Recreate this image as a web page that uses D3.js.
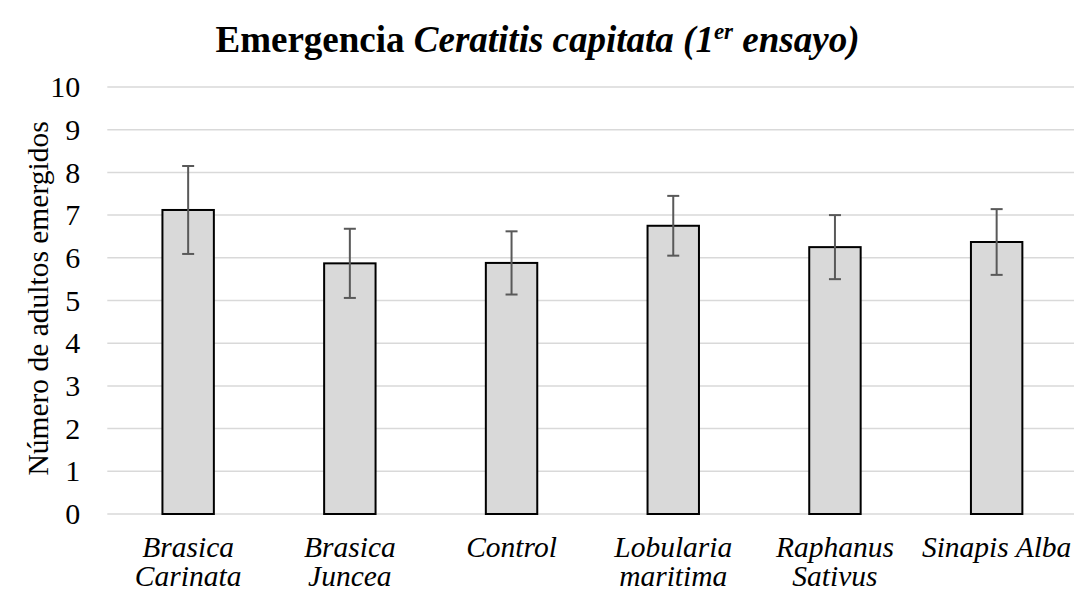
<!DOCTYPE html>
<html>
<head>
<meta charset="utf-8">
<script src="https://cdn.jsdelivr.net/npm/d3@7"></script>
<style>
  html, body { margin: 0; padding: 0; background: #fff; }
  svg { display: block; }
  svg text { font-family: "Liberation Serif", "Times New Roman", Times, "DejaVu Serif", serif !important; }
</style>
</head>
<body>
<div id="chart"></div>
<script>
// Emergence of adult Ceratitis capitata per treatment (first trial)
const categories = [
  ["Brasica", "Carinata"],
  ["Brasica", "Juncea"],
  ["Control"],
  ["Lobularia", "maritima"],
  ["Raphanus", "Sativus"],
  ["Sinapis Alba"]
];
const means  = [7.12, 5.87, 5.88, 6.75, 6.25, 6.37];
const errors = [1.03, 0.81, 0.74, 0.70, 0.75, 0.77];
const yTicks = [0, 1, 2, 3, 4, 5, 6, 7, 8, 9, 10];

const W = 1074, H = 592;
const margin = { top: 87, right: -3.5, bottom: 78, left: 107.3 };
const innerW = W - margin.left - margin.right;
const innerH = H - margin.top - margin.bottom;

const serif = "'Liberation Serif', 'Times New Roman', Times, 'DejaVu Serif', serif";

const svg = d3.select("#chart").append("svg")
  .attr("width", W).attr("height", H);

const keys = categories.map(c => c.join(" "));

const x = d3.scaleBand().domain(keys).range([0, innerW]).paddingInner(0.682).paddingOuter(0.341);
const y = d3.scaleLinear().domain([0, 10]).range([innerH, 0]);

const g = svg.append("g").attr("transform", `translate(${margin.left},${margin.top})`);

// Horizontal gridlines
g.append("g").selectAll("line").data(yTicks).join("line")
  .attr("x1", 0).attr("x2", innerW)
  .attr("y1", d => y(d)).attr("y2", d => y(d))
  .attr("stroke", "#d9d9d9").attr("stroke-width", 1.5);

// Y axis tick labels
const yAxis = g.append("g")
  .call(d3.axisLeft(y).tickValues(yTicks).tickSize(0).tickPadding(27).tickFormat(d3.format("d")))
  .attr("font-family", serif);
yAxis.select(".domain").remove();
yAxis.selectAll("text")
  .attr("font-size", 30).attr("fill", "#000")
  .style("font-family", serif);

// Bars
const data = keys.map((k, i) => ({ key: k, mean: means[i], err: errors[i] }));
g.append("g").selectAll("rect").data(data).join("rect")
  .attr("x", d => x(d.key))
  .attr("y", d => y(d.mean))
  .attr("width", x.bandwidth())
  .attr("height", d => y(0) - y(d.mean))
  .attr("fill", "#d9d9d9")
  .attr("stroke", "#000").attr("stroke-width", 2);

// Error bars
const eb = g.append("g").selectAll("g").data(data).join("g")
  .attr("transform", d => `translate(${x(d.key) + x.bandwidth() / 2},0)`)
  .attr("stroke", "#595959").attr("stroke-width", 2);
eb.append("line").attr("x1", 0).attr("x2", 0)
  .attr("y1", d => y(d.mean + d.err)).attr("y2", d => y(d.mean - d.err));
eb.append("line").attr("x1", -6).attr("x2", 6)
  .attr("y1", d => y(d.mean + d.err)).attr("y2", d => y(d.mean + d.err));
eb.append("line").attr("x1", -6).attr("x2", 6)
  .attr("y1", d => y(d.mean - d.err)).attr("y2", d => y(d.mean - d.err));

// Category labels (italic, possibly two lines)
const xl = g.append("g").selectAll("text").data(categories).join("text")
  .attr("x", (d, i) => x(keys[i]) + x.bandwidth() / 2)
  .attr("y", innerH + 43)
  .attr("text-anchor", "middle")
  .style("font-family", serif)
  .attr("font-size", 29.5).attr("font-style", "italic").attr("fill", "#000");
xl.selectAll("tspan").data(d => d).join("tspan")
  .attr("x", function () { return d3.select(this.parentNode).attr("x"); })
  .attr("dy", (d, i) => i === 0 ? 0 : 29)
  .text(d => d);

// Y axis title
svg.append("text")
  .attr("transform", `translate(48,${margin.top + innerH / 2 - 2}) rotate(-90)`)
  .attr("text-anchor", "middle")
  .style("font-family", serif)
  .attr("font-size", 29.5).attr("fill", "#000")
  .text("Número de adultos emergidos");

// Chart title
const title = svg.append("text")
  .attr("x", 537.5).attr("y", 52)
  .attr("text-anchor", "middle")
  .style("font-family", serif)
  .attr("font-size", 37).attr("font-weight", "bold").attr("fill", "#000");
title.append("tspan").text("Emergencia ");
title.append("tspan").attr("font-style", "italic").text("Ceratitis capitata (1");
title.append("tspan").attr("font-style", "italic").attr("font-size", 23).attr("dy", -13).text("er");
title.append("tspan").attr("font-style", "italic").attr("dy", 13).text(" ensayo)");
</script>
</body>
</html>
